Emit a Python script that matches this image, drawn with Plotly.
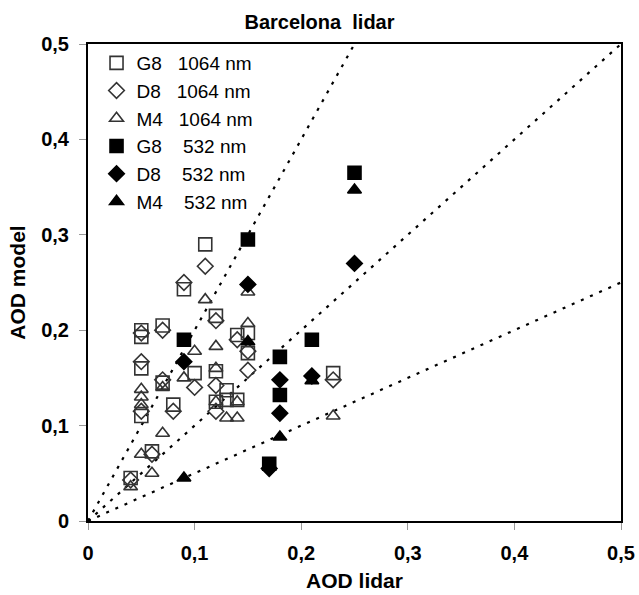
import plotly.graph_objects as go

# ---- data (AOD lidar, AOD model) ----
g8_1064_x = [0.04, 0.05, 0.05, 0.05, 0.05, 0.06, 0.07, 0.07, 0.08, 0.09, 0.10, 0.11, 0.12, 0.12, 0.12, 0.13, 0.13, 0.14, 0.14, 0.15, 0.15, 0.23]
g8_1064_y = [0.045, 0.200, 0.193, 0.160, 0.110, 0.073, 0.205, 0.145, 0.122, 0.243, 0.155, 0.290, 0.215, 0.157, 0.125, 0.137, 0.127, 0.195, 0.127, 0.197, 0.176, 0.155]

d8_1064_x = [0.04, 0.05, 0.05, 0.05, 0.06, 0.07, 0.07, 0.08, 0.09, 0.10, 0.11, 0.12, 0.12, 0.12, 0.14, 0.15, 0.15, 0.23]
d8_1064_y = [0.043, 0.197, 0.167, 0.115, 0.070, 0.200, 0.148, 0.115, 0.250, 0.140, 0.267, 0.210, 0.142, 0.115, 0.190, 0.178, 0.158, 0.148]

m4_1064_x = [0.04, 0.05, 0.05, 0.05, 0.05, 0.06, 0.07, 0.07, 0.09, 0.10, 0.11, 0.12, 0.12, 0.12, 0.13, 0.14, 0.14, 0.15, 0.15, 0.23]
m4_1064_y = [0.036, 0.138, 0.130, 0.122, 0.070, 0.050, 0.092, 0.140, 0.150, 0.178, 0.232, 0.183, 0.160, 0.125, 0.108, 0.108, 0.125, 0.240, 0.207, 0.110]

g8_532_x = [0.09, 0.15, 0.17, 0.18, 0.18, 0.21, 0.25]
g8_532_y = [0.190, 0.295, 0.060, 0.172, 0.132, 0.190, 0.365]

d8_532_x = [0.09, 0.15, 0.17, 0.18, 0.18, 0.21, 0.25]
d8_532_y = [0.167, 0.248, 0.055, 0.148, 0.113, 0.152, 0.270]

m4_532_x = [0.09, 0.15, 0.18, 0.21, 0.25]
m4_532_y = [0.045, 0.188, 0.088, 0.147, 0.347]

ref_slopes = [2.0, 1.0, 0.5]
ref_x_end = [0.25, 0.5, 0.5]

tick_vals = [0, 0.1, 0.2, 0.3, 0.4, 0.5]
tick_text = ["0", "0,1", "0,2", "0,3", "0,4", "0,5"]

NB = "\u00a0"
series = [
    ("G8" + NB * 3 + "1064 nm", g8_1064_x, g8_1064_y, "square-open", 13),
    ("D8" + NB * 3 + "1064 nm", d8_1064_x, d8_1064_y, "diamond-open", 12),
    ("M4" + NB * 3 + "1064 nm", m4_1064_x, m4_1064_y, "triangle-up-open", 12),
    ("G8" + NB * 4 + "532 nm", g8_532_x, g8_532_y, "square", 13),
    ("D8" + NB * 4 + "532 nm", d8_532_x, d8_532_y, "diamond", 12),
    ("M4" + NB * 4 + "532 nm", m4_532_x, m4_532_y, "triangle-up", 12),
]

FONT = "Liberation Sans, Arial"

fig = go.Figure()

for s, xe in zip(ref_slopes, ref_x_end):
    fig.add_trace(go.Scatter(
        x=[0, xe], y=[0, s * xe], mode="lines",
        line=dict(color="black", width=2.2, dash="3px,7px"),
        showlegend=False, hoverinfo="skip"))

for name, xs, ys, sym, sz in series:
    filled = not sym.endswith("open")
    fig.add_trace(go.Scatter(
        x=xs, y=ys, mode="markers", name=name,
        marker=dict(symbol=sym, size=sz,
                    color="black" if filled else "#333333",
                    line=dict(color="black" if filled else "#333333", width=1.6))))

axis_common = dict(
    range=[0, 0.5], tickvals=tick_vals, ticktext=tick_text,
    showgrid=False, zeroline=False, showline=True, mirror=True,
    linecolor="black", linewidth=2, ticks="outside", ticklen=7,
    tickcolor="#999999", tickwidth=1, automargin=False,
    ticklabelstandoff=6,
    tickfont=dict(family=FONT, size=20, color="black", weight="bold"),
)

fig.update_layout(
    width=639, height=595,
    margin=dict(l=88, r=18, t=44, b=74),
    paper_bgcolor="white", plot_bgcolor="white",
    title=dict(text="Barcelona" + NB * 2 + "lidar", x=0.5, xanchor="center",
               y=1 - 22 / 595, yanchor="middle",
               font=dict(family=FONT, size=20, color="black", weight="bold")),
    xaxis=dict(axis_common, title=dict(text="AOD lidar", standoff=10,
               font=dict(family=FONT, size=21, color="black", weight="bold"))),
    yaxis=dict(axis_common, title=dict(text="AOD model", standoff=10,
               font=dict(family=FONT, size=21, color="black", weight="bold"))),
    legend=dict(x=0.016, y=1.0, xanchor="left", yanchor="top",
                bgcolor="rgba(0,0,0,0)", borderwidth=0, tracegroupgap=0,
                font=dict(family=FONT, size=19, color="black"),
                itemwidth=30),
    showlegend=True,
)

fig.write_html("out.html", config={"displayModeBar": False},
               post_script="document.body.style.margin='0';document.body.style.padding='0';")
